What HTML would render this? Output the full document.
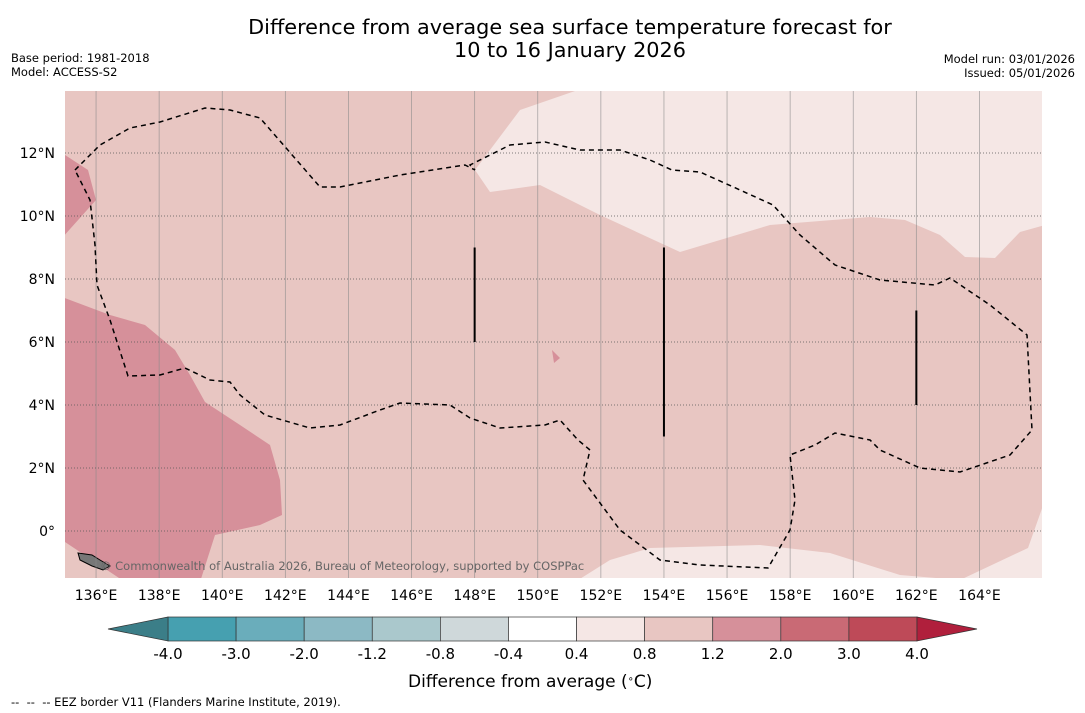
<!DOCTYPE html>
<html><head><meta charset="utf-8"><style>
body{margin:0;background:#fff;width:1085px;height:713px;overflow:hidden;font-family:"Liberation Sans","DejaVu Sans",sans-serif}
svg{position:absolute;left:0;top:0}
</style></head><body>
<svg id="c" width="1085" height="713" font-family="DejaVu Sans, Liberation Sans, sans-serif">
<text x="570" y="34" font-size="20.8" text-anchor="middle">Difference from average sea surface temperature forecast for</text>
<text x="570" y="57" font-size="20.8" text-anchor="middle">10 to 16 January 2026</text>
<text x="11" y="62" font-size="11.5">Base period: 1981-2018</text>
<text x="11" y="76" font-size="11.5">Model: ACCESS-S2</text>
<text x="1075" y="63" font-size="11.5" text-anchor="end">Model run: 03/01/2026</text>
<text x="1075" y="77" font-size="11.5" text-anchor="end">Issued: 05/01/2026</text>
<defs><clipPath id="mc"><rect x="65" y="91" width="977" height="487"/></clipPath></defs>
<g id="map" clip-path="url(#mc)"></g>
<g id="ax"></g>
<text x="408" y="687" font-size="17">Difference from average (<tspan baseline-shift="super" font-size="10">∘</tspan>C)</text>
<text x="11" y="706" font-size="11.5" style="white-space:pre" xml:space="preserve">--  --  -- EEZ border V11 (Flanders Marine Institute, 2019).</text>
</svg>
<script>
const lonTicks=[136,138,140,142,144,146,148,150,152,154,156,158,160,162,164];
const latTicks=[0,2,4,6,8,10,12];
const cbLevels=[-4.0,-3.0,-2.0,-1.2,-0.8,-0.4,0.4,0.8,1.2,2.0,3.0,4.0];
const cbColors=["#46a0b0","#6aadbb","#8cb9c4","#aac8cc","#cfd8da","#ffffff","#f5e7e5","#e8c6c2","#d6909a","#c96a75","#be4a58"];
const cbUnder="#3b7e88", cbOver="#b01f3c";
const baseColor="#e8c6c2";
const px=(x,y)=>[135+(x-64.5)/31.55,(531-y)/31.5];
const lightTop=[[575,91],[520,110],[475,170],[490,192],[540,185],[600,215],[680,252],[770,225],[870,217],[905,220],[940,235],[965,257],[995,258],[1020,232],[1045,225],[1045,88],[575,88]].map(p=>px(...p));
const lightBottom=[[575,582],[610,560],[650,548],[760,545],[830,553],[900,575],[960,580],[1028,548],[1045,500],[1045,582]].map(p=>px(...p));
const darkTop=[[62,153],[88,170],[96,200],[62,238]].map(p=>px(...p));
const darkLeft=[[62,297],[110,315],[145,325],[175,350],[190,375],[205,402],[240,425],[270,445],[280,480],[282,515],[260,525],[215,535],[200,582],[125,582],[62,540]].map(p=>px(...p));
const darkSmall=[[552,350],[560,358],[554,363]].map(p=>px(...p));
const eez=[[75,170],[100,145],[130,128],[160,122],[205,108],[230,110],[260,118],[320,187],[340,187],[400,175],[465,165],[475,170],[470,165],[510,145],[545,142],[580,150],[620,150],[650,160],[672,170],[700,172],[740,190],[773,205],[800,235],[835,265],[880,280],[935,285],[950,278],[990,305],[1027,335],[1032,430],[1010,455],[960,472],[920,468],[880,450],[870,440],[835,433],[815,445],[790,455],[795,500],[790,530],[768,568],[700,565],[660,560],[620,530],[583,480],[590,450],[578,440],[560,420],[545,425],[500,428],[470,418],[450,405],[400,403],[380,410],[340,425],[310,428],[265,415],[240,395],[230,382],[210,380],[185,368],[160,375],[128,376],[110,320],[97,285],[95,245],[90,200],[75,170]].map(p=>px(...p));
const vLines=[[148,9,6],[154,9,3],[162,7,4]];
const island=[[78,553],[92,555],[100,560],[110,566],[103,570],[92,566],[80,560]].map(p=>px(...p));

const X=lon=>64.5+(lon-135)*31.55, Y=lat=>531-lat*31.5;
const NS="http://www.w3.org/2000/svg";
function mk(t,a,p){const e=document.createElementNS(NS,t);for(const k in a)e.setAttribute(k,a[k]);p.appendChild(e);return e;}
const map=document.getElementById('map'), ax=document.getElementById('ax');
const pts=a=>a.map(p=>X(p[0]).toFixed(1)+','+Y(p[1]).toFixed(1)).join(' ');
let e=mk('rect',{x:65,y:91,width:977,height:487,fill:baseColor},map);


[[lightTop,"#f5e7e5",'light-region-north'],[lightBottom,"#f5e7e5",'light-region-south'],[darkTop,"#d6909a",'warm-region-northwest'],[darkLeft,"#d6909a",'warm-region-west'],[darkSmall,"#d6909a",'warm-patch']].forEach(r=>{
 const el=mk('polygon',{points:pts(r[0]),fill:r[1]},map);
 
 
});
e=mk('polygon',{points:pts(island),fill:"#777",stroke:"#000","stroke-width":1},map);


lonTicks.forEach(l=>{
 const g=mk('line',{x1:X(l),x2:X(l),y1:91,y2:578,stroke:"#8a8a8a","stroke-width":0.8,opacity:0.7},map);
 
 
 const t=mk('text',{x:X(l),y:600,"font-size":14,"text-anchor":"middle"},ax);t.textContent=l+'°E';
 
 
});
latTicks.forEach(l=>{
 const g=mk('line',{x1:65,x2:1042,y1:Y(l),y2:Y(l),stroke:"#555","stroke-width":0.8,"stroke-dasharray":"1,2"},map);
 
 
 const t=mk('text',{x:55,y:Y(l)+5,"font-size":14,"text-anchor":"end"},ax);t.textContent=l===0?'0°':l+'°N';
 
 
});
e=mk('polyline',{points:pts(eez),fill:"none",stroke:"#000","stroke-width":1.5,"stroke-dasharray":"5,4"},map);


vLines.forEach(v=>{
 const l=mk('line',{x1:X(v[0]),x2:X(v[0]),y1:Y(v[1]),y2:Y(v[2]),stroke:"#000","stroke-width":2},map);
 
 
});
e=mk('text',{x:100,y:570,"font-size":11.5,fill:"#666"},map);e.textContent='© Commonwealth of Australia 2026, Bureau of Meteorology, supported by COSPPac';


const cx0=168,cx1=917,cy=617,ch=24,n=cbColors.length,w=(cx1-cx0)/n;
cbColors.forEach((c,i)=>{
 const r=mk('rect',{x:cx0+i*w,y:cy,width:w,height:ch,fill:c,stroke:"#333","stroke-width":0.7},ax);
 
 
});
e=mk('polygon',{points:`${cx0},${cy} 108,${cy+ch/2} ${cx0},${cy+ch}`,fill:cbUnder,stroke:"#333","stroke-width":0.7},ax);


e=mk('polygon',{points:`${cx1},${cy} 977,${cy+ch/2} ${cx1},${cy+ch}`,fill:cbOver,stroke:"#333","stroke-width":0.7},ax);


cbLevels.forEach((v,i)=>{
 const t=mk('text',{x:cx0+i*w,y:659,"font-size":15,"text-anchor":"middle"},ax);t.textContent=v.toFixed(1);
 
 
});
</script>
</body></html>
